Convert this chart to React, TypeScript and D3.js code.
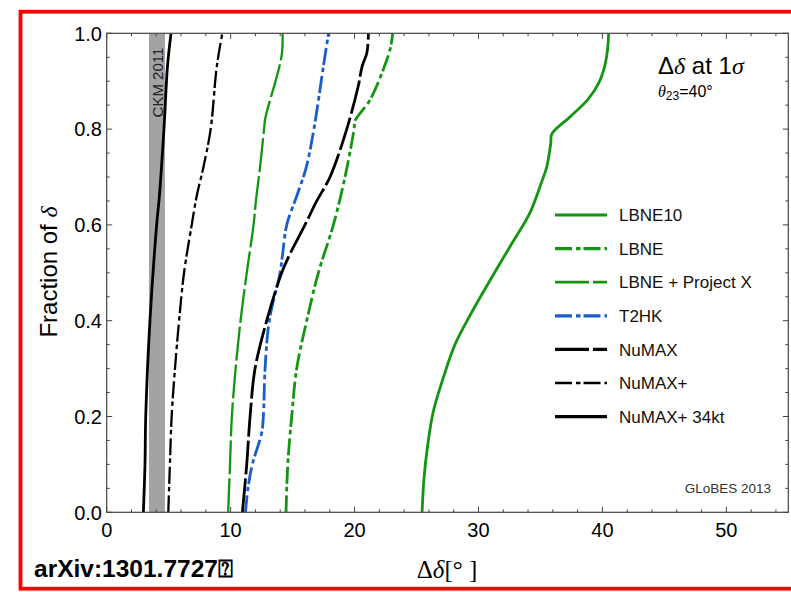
import * as d3 from "d3";

// Δδ values (degrees) against fraction of δ
const lbne10Y = [0, 0.07, 0.14, 0.21, 0.28, 0.35, 0.415, 0.485, 0.555, 0.625, 0.69, 0.72, 0.77, 0.79, 0.826, 0.861, 0.896, 0.93, 0.965, 1.0];
const lbne10X = [25.45, 25.6, 25.9, 26.35, 27.15, 28.1, 29.4, 30.95, 32.55, 34.15, 35.1, 35.5, 35.83, 35.92, 37.4, 38.8, 39.7, 40.17, 40.41, 40.5];

const lbneY = [0, 0.1, 0.2, 0.3, 0.4, 0.5, 0.6, 0.7, 0.8, 0.8175, 0.861, 0.93, 0.97, 1.0];
const lbneX = [14.47, 14.61, 14.93, 15.33, 16.14, 17.08, 18.29, 19.23, 19.96, 20.04, 21.25, 22.4, 22.9, 23.08];

const lbnePxY = [0, 0.1, 0.2, 0.3, 0.4, 0.5, 0.6, 0.652, 0.72, 0.8, 0.823, 0.896, 0.93, 0.96, 1.0];
const lbnePxX = [9.8, 9.95, 10.1, 10.4, 10.8, 11.3, 11.85, 12.05, 12.37, 12.7, 12.8, 13.58, 13.93, 14.15, 14.2];

const t2hkY = [0, 0.05, 0.1, 0.165, 0.2, 0.3, 0.4, 0.5, 0.54, 0.6, 0.665, 0.72, 0.8, 0.93, 1.0];
const t2hkX = [11.2, 11.4, 11.75, 12.5, 12.64, 12.78, 13.12, 13.99, 14.2, 14.53, 15.4, 16.1, 16.72, 17.48, 17.9];

const numaxY = [0, 0.1, 0.2, 0.3, 0.4, 0.5, 0.54, 0.6, 0.65, 0.7, 0.8, 0.89, 0.93, 0.96, 1.0];
const numaxX = [10.95, 11.3, 11.57, 11.97, 12.91, 14.12, 14.8, 16.0, 16.95, 18.02, 19.37, 20.3, 20.6, 21.0, 21.12];

const numaxPlusY = [0, 0.1, 0.2, 0.3, 0.4, 0.5, 0.6, 0.66, 0.72, 0.8, 0.93, 1.0];
const numaxPlusX = [4.97, 5.1, 5.24, 5.51, 5.84, 6.24, 6.86, 7.26, 7.8, 8.39, 8.88, 9.33];

const numax34Y = [0, 0.1, 0.2, 0.4, 0.6, 0.66, 0.8, 0.93, 1.0];
const numax34X = [2.96, 3.09, 3.15, 3.49, 4.03, 4.25, 4.62, 4.9, 5.19];

// CKM 2011 band
const ckmBand = [3.41, 4.7];

const xTicks = [0, 10, 20, 30, 40, 50];
const yTicks = [0, 0.2, 0.4, 0.6, 0.8, 1.0];

const GREEN = "#129612";
const BLUE = "#1a5ccc";
const DASHDOT = "17,4,4.5,3";
const LONGDASH = "34,4";

const series = [
  { name: "LBNE10", xs: lbne10X, ys: lbne10Y, color: GREEN, dash: null, w: 2.8 },
  { name: "LBNE", xs: lbneX, ys: lbneY, color: GREEN, dash: DASHDOT, w: 2.8 },
  { name: "LBNE + Project X", xs: lbnePxX, ys: lbnePxY, color: GREEN, dash: LONGDASH, w: 2.3 },
  { name: "T2HK", xs: t2hkX, ys: t2hkY, color: BLUE, dash: DASHDOT, w: 2.8 },
  { name: "NuMAX", xs: numaxX, ys: numaxY, color: "#000", dash: LONGDASH, w: 2.8 },
  { name: "NuMAX+", xs: numaxPlusX, ys: numaxPlusY, color: "#000", dash: DASHDOT, w: 2.3 },
  { name: "NuMAX+ 34kt", xs: numax34X, ys: numax34Y, color: "#000", dash: null, w: 2.8 },
];

const W = 791;
const H = 592;
const left = 106.7, right = 788.3, top = 33.3, bottom = 512.3;

export default function App() {
  const x = d3.scaleLinear().domain([0, 55]).range([left, right]);
  const y = d3.scaleLinear().domain([0, 1]).range([bottom, top]);

  const line = d3
    .line<[number, number]>()
    .x((d) => x(d[0]))
    .y((d) => y(d[1]))
    .curve(d3.curveCatmullRom.alpha(0.5));

  const xMinor = d3.range(0, 55.01, 2);
  const yMinor = d3.range(0, 1.001, 0.05);

  const legendX = 555;
  const legendY0 = 215;
  const legendStep = 33.6;

  return (
    <svg
      width={W}
      height={H}
      style={{ position: "absolute", left: 0, top: 0, background: "#fff" }}
      fontFamily="'Liberation Sans', Arial, sans-serif"
    >
      <defs>
        <clipPath id="plot">
          <rect x={left} y={top} width={right - left} height={bottom - top} />
        </clipPath>
      </defs>

      {/* CKM band */}
      <rect
        x={x(ckmBand[0])}
        y={top}
        width={x(ckmBand[1]) - x(ckmBand[0])}
        height={bottom - top}
        fill="#a3a3a3"
      />
      <text
        transform={`translate(${(x(ckmBand[0]) + x(ckmBand[1])) / 2 + 0.5},82.5) rotate(-90)`}
        textAnchor="middle"
        dominantBaseline="central"
        fontSize={15}
        fill="#222"
      >
        CKM 2011
      </text>

      {/* curves */}
      <g clipPath="url(#plot)">
        {series.map((s) => (
          <path
            key={s.name}
            d={line(s.xs.map((v, i) => [v, s.ys[i]] as [number, number])) || ""}
            fill="none"
            stroke={s.color}
            strokeWidth={s.w}
            strokeDasharray={s.dash || undefined}
          />
        ))}
      </g>

      {/* frame */}
      <rect x={left} y={top} width={right - left} height={bottom - top} fill="none" stroke="#444" strokeWidth={1.2} />

      {/* x ticks */}
      {xMinor.map((t) => {
        const major = Math.abs(t % 10) < 1e-6;
        const len = major ? 5.5 : 3;
        return (
          <g key={"xt" + t} stroke="#444" strokeWidth={1}>
            <line x1={x(t)} x2={x(t)} y1={bottom} y2={bottom - len} />
            <line x1={x(t)} x2={x(t)} y1={top} y2={top + len} />
          </g>
        );
      })}
      {xTicks.map((t) => (
        <text key={"xl" + t} x={x(t)} y={537} textAnchor="middle" fontSize={20} fill="#000">
          {t}
        </text>
      ))}

      {/* y ticks */}
      {yMinor.map((t) => {
        const major = Math.abs((t * 5) - Math.round(t * 5)) < 1e-6;
        const len = major ? 5.5 : 3;
        return (
          <g key={"yt" + t} stroke="#444" strokeWidth={1}>
            <line x1={left} x2={left + len} y1={y(t)} y2={y(t)} />
            <line x1={right} x2={right - len} y1={y(t)} y2={y(t)} />
          </g>
        );
      })}
      {yTicks.map((t) => (
        <text key={"yl" + t} x={102} y={y(t)} dy="0.36em" textAnchor="end" fontSize={20} fill="#000">
          {t.toFixed(1)}
        </text>
      ))}

      {/* axis titles */}
      <text transform="translate(57,272) rotate(-90)" textAnchor="middle" fontSize={24} fill="#000">
        Fraction of <tspan fontFamily="'Liberation Serif', serif" fontStyle="italic">δ</tspan>
      </text>
      <text x={447} y={578} textAnchor="middle" fontSize={25} fontFamily="'Liberation Serif', serif" fill="#000">
        Δ<tspan fontStyle="italic">δ</tspan>[° ]
      </text>

      {/* annotations */}
      <text x={658} y={74} fontSize={24} fill="#000">
        Δ<tspan fontFamily="'Liberation Serif', serif" fontStyle="italic">δ</tspan> at 1
        <tspan fontFamily="'Liberation Serif', serif" fontStyle="italic">σ</tspan>
      </text>
      <text x={658} y={97} fontSize={16} fill="#000">
        <tspan fontFamily="'Liberation Serif', serif" fontStyle="italic">θ</tspan>
        <tspan fontSize={12} dy={3}>23</tspan>
        <tspan dy={-3}>=40°</tspan>
      </text>
      <text x={771} y={493} textAnchor="end" fontSize={13.5} fill="#333">
        GLoBES 2013
      </text>

      {/* legend */}
      {series.map((s, i) => {
        const ly = legendY0 + i * legendStep;
        return (
          <g key={"lg" + s.name}>
            <line
              x1={legendX}
              x2={legendX + 52}
              y1={ly}
              y2={ly}
              stroke={s.color}
              strokeWidth={s.w + 0.4}
              strokeDasharray={s.dash || undefined}
            />
            <text x={619} y={ly} dy="0.36em" fontSize={17} fill="#111">
              {s.name}
            </text>
          </g>
        );
      })}

      {/* outer red border and reference */}
      <rect x={20.5} y={11.7} width={800} height={577} fill="none" stroke="#ff0000" strokeWidth={3.8} />
      <text x={34} y={577} fontSize={24.5} fontWeight="bold" fill="#000">
        arXiv:1301.7727⍰
      </text>
    </svg>
  );
}
